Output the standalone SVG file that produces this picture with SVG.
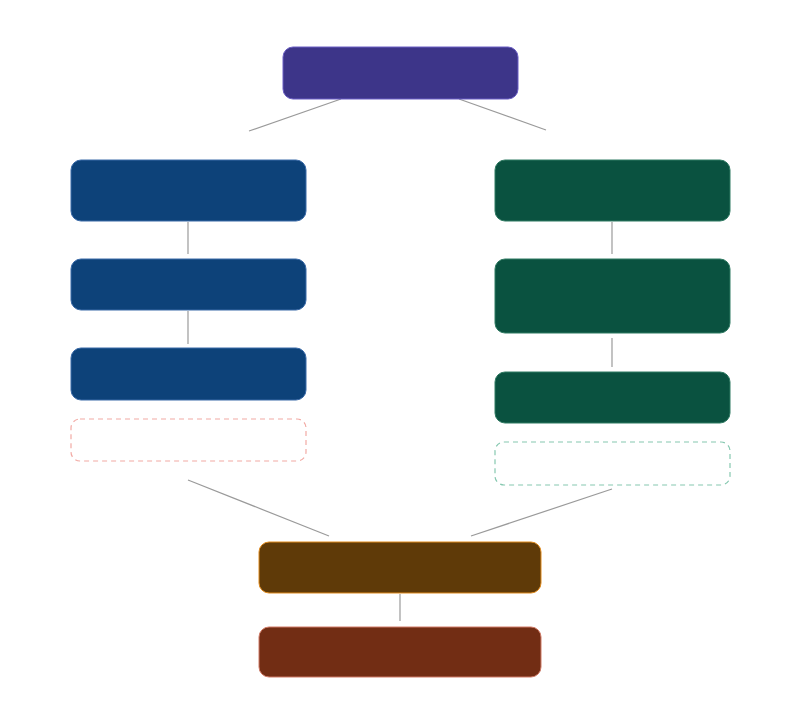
<svg xmlns="http://www.w3.org/2000/svg" width="800" height="706" viewBox="0 0 800 706">
<style>
.conn{stroke:#9a9a9a;stroke-width:1.2;fill:none}
.node{stroke-width:1}
.purple{fill:#3d3589;stroke:#6b5fc4}
.blue{fill:#0d4279;stroke:#3a6aa8}
.green{fill:#0a5240;stroke:#2f7a62}
.brown{fill:#5f3a08;stroke:#e08a1c}
.rust{fill:#722d14;stroke:#d07a66}
.dash{fill:#ffffff;stroke-dasharray:5 4;stroke-width:1.2}
</style>
<rect width="800" height="706" fill="#ffffff"/>
<g id="connectors">
<line class="conn" x1="341" y1="99" x2="249" y2="131"/>
<line class="conn" x1="459" y1="99" x2="546" y2="130"/>
<line class="conn" x1="188" y1="222" x2="188" y2="254"/>
<line class="conn" x1="188" y1="311" x2="188" y2="344"/>
<line class="conn" x1="612" y1="222" x2="612" y2="254"/>
<line class="conn" x1="612" y1="338" x2="612" y2="367"/>
<line class="conn" x1="188" y1="480" x2="329" y2="536"/>
<line class="conn" x1="612" y1="489" x2="471" y2="536"/>
<line class="conn" x1="400" y1="594" x2="400" y2="621"/>
</g>
<g id="top"><rect class="node purple" x="283" y="47" width="235" height="52" rx="10"/></g>
<g id="left1"><rect class="node blue" x="71" y="160" width="235" height="61" rx="10"/></g>
<g id="left2"><rect class="node blue" x="71" y="259" width="235" height="51" rx="10"/></g>
<g id="left3"><rect class="node blue" x="71" y="348" width="235" height="52" rx="10"/></g>
<g id="left4"><rect class="dash" x="71" y="419" width="235" height="42" rx="9" stroke="#f2aaa4"/></g>
<g id="right1"><rect class="node green" x="495" y="160" width="235" height="61" rx="10"/></g>
<g id="right2"><rect class="node green" x="495" y="259" width="235" height="74" rx="10"/></g>
<g id="right3"><rect class="node green" x="495" y="372" width="235" height="51" rx="10"/></g>
<g id="right4"><rect class="dash" x="495" y="442" width="235" height="43" rx="9" stroke="#86c8b0"/></g>
<g id="bottom1"><rect class="node brown" x="259" y="542" width="282" height="51" rx="10"/></g>
<g id="bottom2"><rect class="node rust" x="259" y="627" width="282" height="50" rx="10"/></g>
</svg>
